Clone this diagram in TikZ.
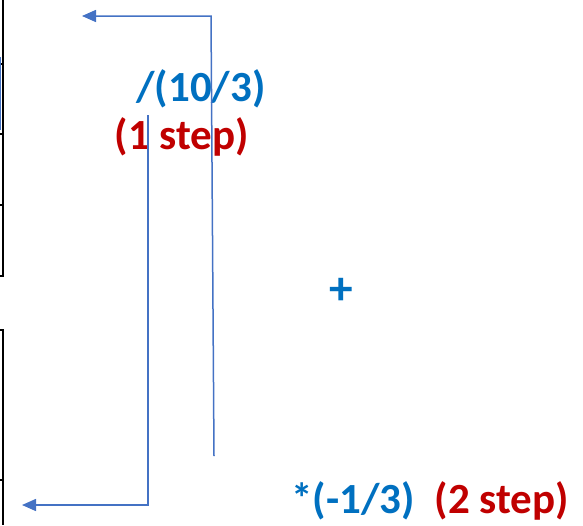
\documentclass[tikz,border=0pt]{standalone}
\usepackage{fontspec}
\setsansfont{Carlito}
\usepackage{xcolor}
\usetikzlibrary{arrows.meta,positioning}
\definecolor{opblue}{HTML}{0070C0}
\definecolor{opred}{HTML}{C00000}
\definecolor{arrblue}{HTML}{4472C4}

\begin{document}
\begin{tikzpicture}[x=1pt,y=-1pt,font=\sffamily\bfseries\fontsize{43}{46}\selectfont,
 >={Triangle[length=14pt,width=12pt]},
 op/.style={text=opblue,inner sep=0pt,anchor=base},
 cnt/.style={text=opred,inner sep=0pt,anchor=base},
 flow/.style={->,arrblue,line width=1.5pt}]
\useasboundingbox (0,0) rectangle (583,525);
% edge of the table on the left
\draw[line width=2pt](2.5,0)--(2.5,276);
\draw[line width=2pt](2.5,330)--(2.5,525);
\foreach \y in {64,134,205,276,330,480}
 {\draw[line width=2pt](0,\y)--(3.5,\y);}
\draw[arrblue,line width=1pt](0.5,57)--(0.5,130);
% labels
\node[op](div) at (201,101){/(10/3)};
\node[cnt](one) at (182,149){(1 step)};
\node[text=opblue,inner sep=0pt,scale=1.1](plus) at (341,291){+};
\node[op](mul) at (353,513){*(-1/3)};
\node[cnt](two) at (502,513){(2 step)};
% arrows
\coordinate(t1) at (214,456);\coordinate(t2) at (211,16);\coordinate(t3) at (82,16);
\coordinate(b1) at (148,115);\coordinate(b2) at (148,505);\coordinate(b3) at (22,505);
\draw[flow](t1)--(t2)--(t3);
\draw[flow](b1)--(b2)--(b3);
\end{tikzpicture}
\end{document}
